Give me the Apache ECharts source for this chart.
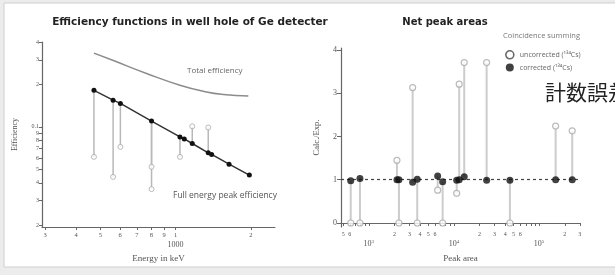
<!DOCTYPE html>
<html><head><meta charset="utf-8">
<script src="https://cdn.jsdelivr.net/npm/echarts@6/dist/echarts.min.js"></script>
<style>html,body{margin:0;padding:0;background:#ececec}#c{width:615px;height:275px}</style>
</head><body><div id="c"></div>
<script>
// ---- Left chart data (Energy keV vs efficiency) ----
const energyTotal = [471, 560, 765, 1041, 1331, 1552, 1955];
const effTotal    = [0.335, 0.298, 0.240, 0.198, 0.177, 0.170, 0.166];
const energyFEP = [471, 562, 601, 801, 1041, 1083, 1166, 1351, 1394, 1637, 1974];
const effFEP    = [0.182, 0.155, 0.147, 0.110, 0.0849, 0.0822, 0.0762, 0.0654, 0.0637, 0.0543, 0.0454];
const energyUnc = [471, 562, 601, 801, 801, 1041, 1166, 1351];
const effUnc    = [0.0612, 0.0441, 0.0721, 0.052, 0.0361, 0.0612, 0.101, 0.099];
const leftXTicks = [300, 400, 500, 600, 700, 800, 900, 1000, 2000];
const leftYTicks = [0.02, 0.03, 0.04, 0.05, 0.06, 0.07, 0.08, 0.09, 0.1, 0.2, 0.3, 0.4];

// ---- Right chart data (Peak area vs Calc./Exp.) ----
const peakArea  = [614, 788, 2143, 2260, 3275, 3708, 6442, 7370, 10770, 11530, 13210, 24200, 45400, 156300, 244700];
const ratioCorr = [0.977, 1.03, 1.0, 1.0, 0.94, 1.01, 1.085, 0.955, 0.99, 1.0, 1.07, 0.99, 0.99, 1.0, 1.0];
const ratioUnc  = [0, 0, 1.45, 0, 3.13, 0, 0.76, 0, 0.685, 3.21, 3.71, 3.71, 0, 2.24, 2.13];
const rightXTicks = [500, 600, 700, 800, 900, 1000, 2000, 3000, 4000, 5000, 6000, 7000, 8000, 9000,
  10000, 20000, 30000, 40000, 50000, 60000, 70000, 80000, 90000, 100000, 200000, 300000];
const rightYTicks = [0, 1, 2, 3, 4];

const L = Math.log10;
const lg = v => L(v);
const serif = '"Liberation Serif", "DejaVu Serif", serif';
const sans = '"Open Sans", "Noto Sans", sans-serif';

const leftStems = energyUnc.map((e, i) => {
  const j = energyFEP.indexOf(e);
  return [lg(e), lg(effFEP[j]), lg(effUnc[i])];
});
const rightStems = peakArea.map((p, i) => [lg(p), ratioCorr[i], ratioUnc[i]]);

function stemRender(color, width) {
  return function (params, api) {
    const a = api.coord([api.value(0), api.value(1)]);
    const b = api.coord([api.value(0), api.value(2)]);
    return {type: 'line', shape: {x1: a[0], y1: a[1], x2: b[0], y2: b[1]},
      style: {stroke: color, lineWidth: width}};
  };
}
function leadDigit(v) {
  const x = Math.pow(10, v);
  const e = Math.floor(L(x) + 1e-9);
  return Math.round(x / Math.pow(10, e));
}

const chart = echarts.init(document.getElementById('c'), null, {renderer: 'canvas'});
const uncName = 'uncorrected (\u00b9\u00b3\u2074Cs)';
const corName = 'corrected (\u00b9\u00b3\u2074Cs)';

chart.setOption({
  backgroundColor: '#ececec',
  animation: false,
  graphic: [
    {type: 'rect', z: -10, shape: {x: 4, y: 3, width: 620, height: 264},
      style: {fill: '#ffffff', stroke: '#cfcfcf', lineWidth: 1}},
    {type: 'text', left: 187, top: 67, style: {text: 'Total efficiency', fontFamily: sans, fontSize: 8, fill: '#666'}},
    {type: 'text', left: 173, top: 191, style: {text: 'Full energy peak efficiency', fontFamily: sans, fontSize: 8.5, fill: '#555'}},
    {type: 'text', left: 503, top: 32, style: {text: 'Coincidence summing', fontFamily: sans, fontSize: 7.5, fill: '#777'}},
    {type: 'text', left: 545, top: 82, style: {text: '計数誤差', fontFamily: '"Noto Sans CJK JP", sans-serif', fontSize: 21, fill: '#222'}}
  ],
  title: [
    {text: 'Efficiency functions in well hole of Ge detecter', left: 185, top: 12, textAlign: 'center',
      textStyle: {fontFamily: '"DejaVu Sans", sans-serif', fontWeight: 'bold', fontSize: 10.5, color: '#222'}},
    {text: 'Net peak areas', left: 440, top: 12, textAlign: 'center',
      textStyle: {fontFamily: '"DejaVu Sans", sans-serif', fontWeight: 'bold', fontSize: 10, color: '#222'}}
  ],
  legend: {
    orient: 'vertical', left: 500, top: 45, itemWidth: 8, itemHeight: 8, itemGap: 4, icon: 'circle',
    textStyle: {fontFamily: sans, fontSize: 7, color: '#666', padding: [0, 0, 0, 1]},
    data: [
      {name: uncName, itemStyle: {color: '#fff', borderColor: '#444', borderWidth: 1.6}},
      {name: corName, itemStyle: {color: '#111'}}
    ]
  },
  grid: [
    {left: 42, top: 42, width: 233, height: 185},
    {left: 341, top: 48, width: 239, height: 179}
  ],
  xAxis: [
    {gridIndex: 0, type: 'value', min: 2.465, max: 3.398,
      name: 'Energy in keV', nameLocation: 'middle', nameGap: 20,
      nameTextStyle: {fontFamily: serif, fontSize: 9, color: '#555'},
      axisLine: {lineStyle: {color: '#666', width: 1.2}},
      splitLine: {show: false},
      axisTick: {customValues: leftXTicks.map(lg), length: 3, lineStyle: {color: '#666'}},
      axisLabel: {customValues: leftXTicks.map(lg), margin: 4, fontFamily: serif, fontSize: 6.5, color: '#555', lineHeight: 9,
        formatter: v => { const d = leadDigit(v); return Math.abs(v - 3) < 1e-6 ? '1\n{b|1000}' : String(d); },
        rich: {b: {fontFamily: serif, fontSize: 8, color: '#555'}}}
    },
    {gridIndex: 1, type: 'value', min: 2.674, max: 5.48,
      name: 'Peak area', nameLocation: 'middle', nameGap: 27,
      nameTextStyle: {fontFamily: serif, fontSize: 9, color: '#555'},
      axisLine: {lineStyle: {color: '#666', width: 1.2}},
      splitLine: {show: false},
      axisTick: {customValues: rightXTicks.map(lg), length: 3, lineStyle: {color: '#666'}},
      axisLabel: {customValues: rightXTicks.map(lg), margin: 3, fontFamily: serif, fontSize: 6, color: '#555', lineHeight: 9,
        formatter: v => {
          const d = leadDigit(v);
          const e = Math.round(v);
          if (Math.abs(v - e) < 1e-6) return '\n{m|10}{s|' + e + '}';
          return d >= 7 ? '' : String(d);
        },
        rich: {m: {fontFamily: serif, fontSize: 8, color: '#555', lineHeight: 10},
               s: {fontFamily: serif, fontSize: 5, color: '#555', lineHeight: 10, verticalAlign: 'top', padding: [0, 0, 4, 0]}}}
    }
  ],
  yAxis: [
    {gridIndex: 0, type: 'value', min: -1.712, max: -0.396,
      name: 'Efficiency', nameLocation: 'middle', nameGap: 23,
      nameTextStyle: {fontFamily: serif, fontSize: 8, color: '#555'},
      axisLine: {show: true, lineStyle: {color: '#666', width: 1.2}},
      splitLine: {show: false},
      axisTick: {show: true, customValues: leftYTicks.map(lg), length: 3, lineStyle: {color: '#666'}},
      axisLabel: {customValues: leftYTicks.map(lg), margin: 3, fontFamily: serif, fontSize: 6, color: '#555',
        formatter: v => Math.abs(v + 1) < 1e-6 ? '0.1' : String(leadDigit(v))}
    },
    {gridIndex: 1, type: 'value', min: -0.0925, max: 4.046,
      name: 'Calc./Exp.', nameLocation: 'middle', nameGap: 20,
      nameTextStyle: {fontFamily: serif, fontSize: 8.5, color: '#555'},
      axisLine: {show: true, lineStyle: {color: '#666', width: 1.2}},
      splitLine: {show: false},
      axisTick: {show: true, customValues: rightYTicks, length: 4, lineStyle: {color: '#666'}},
      axisLabel: {customValues: rightYTicks, margin: 4, fontFamily: serif, fontSize: 8, color: '#555'}
    }
  ],
  series: [
    {type: 'line', name: 'Total efficiency', xAxisIndex: 0, yAxisIndex: 0, smooth: true, showSymbol: false,
      data: energyTotal.map((e, i) => [lg(e), lg(effTotal[i])]),
      lineStyle: {color: '#8c8c8c', width: 1.5}},
    {type: 'custom', name: 'stemsL', xAxisIndex: 0, yAxisIndex: 0, renderItem: stemRender('#b8b8b8', 1.5),
      encode: {x: 0, y: [1, 2]}, data: leftStems, z: 1},
    {type: 'scatter', name: 'uncL', xAxisIndex: 0, yAxisIndex: 0, symbol: 'circle', symbolSize: 5,
      data: energyUnc.map((e, i) => [lg(e), lg(effUnc[i])]),
      itemStyle: {color: '#fff', borderColor: '#aaa', borderWidth: 1}, z: 3},
    {type: 'line', name: 'FEP', xAxisIndex: 0, yAxisIndex: 0, symbol: 'circle', symbolSize: 5,
      data: energyFEP.map((e, i) => [lg(e), lg(effFEP[i])]),
      lineStyle: {color: '#333', width: 1.5}, itemStyle: {color: '#111'}, z: 4},
    {type: 'custom', name: 'stemsR', xAxisIndex: 1, yAxisIndex: 1, renderItem: stemRender('#cccccc', 2),
      encode: {x: 0, y: [1, 2]}, data: rightStems, z: 1},
    {type: 'scatter', name: uncName, xAxisIndex: 1, yAxisIndex: 1, symbol: 'circle', symbolSize: 6,
      data: peakArea.map((p, i) => [lg(p), ratioUnc[i]]),
      itemStyle: {color: '#fff', borderColor: '#aaa', borderWidth: 1.2}, z: 3},
    {type: 'scatter', name: corName, xAxisIndex: 1, yAxisIndex: 1, symbol: 'circle', symbolSize: 7,
      data: peakArea.map((p, i) => [lg(p), ratioCorr[i]]),
      itemStyle: {color: '#111'}, z: 5,
      markLine: {silent: true, symbol: 'none', label: {show: false}, z: 2,
        lineStyle: {color: '#444', width: 1.2, type: [3, 3]}, data: [{yAxis: 1}]}}
  ]
});
</script></body></html>
